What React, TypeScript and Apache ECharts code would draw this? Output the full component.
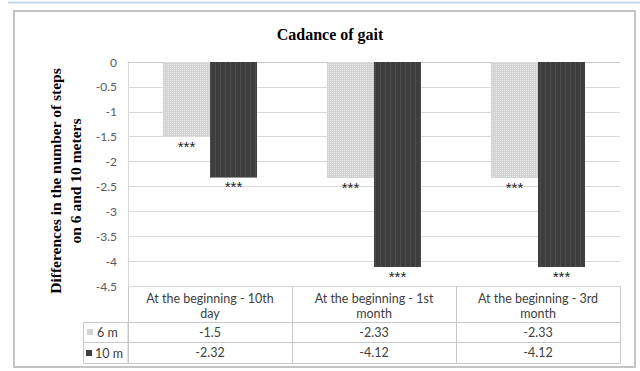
import React, { useEffect, useRef } from "react";
import * as echarts from "echarts";

const categories = [
  "At the beginning - 10th\nday",
  "At the beginning - 1st\nmonth",
  "At the beginning - 3rd\nmonth",
];
const seriesNames = ["6 m", "10 m"];
const sixM = [-1.5, -2.33, -2.33];
const tenM = [-2.32, -4.12, -4.12];
const sigLabels = ["***", "***"];
const yMin = -4.5;
const yMax = 0;
const yStep = 0.5;

const TABLE_LINE = "#c8c8c8";
const TEXT = "#404040";
const FONT = "Lato";

const GRID_LEFT = 128;
const GRID_RIGHT = 20;
const GRID_TOP = 62;
const GRID_BOTTOM = 85;
const W = 640;
const H = 371;

export default function App() {
  const ref = useRef<HTMLDivElement>(null);
  useEffect(() => {
    if (!ref.current) return;
    const chart = echarts.init(ref.current, undefined, { renderer: "svg" });
    const rowAxis = (offset: number, values: number[] | null) => ({
      type: "category",
      data: categories,
      position: "bottom",
      offset,
      axisLine: { show: true, lineStyle: { color: TABLE_LINE } },
      axisTick: { show: false },
      splitLine: { show: false },
      axisLabel: {
        show: values !== null,
        interval: 0,
        margin: 4,
        fontSize: 12.5,
        fontFamily: FONT,
        color: TEXT,
        formatter: (_v: string, i: number) => (values ? String(values[i]) : ""),
      },
    });
    const plotW = W - GRID_LEFT - GRID_RIGHT;
    const tableTop = H - GRID_BOTTOM;
    const tableBottom = tableTop + 77;
    const band = plotW / categories.length;
    const vLines = [];
    for (let i = 0; i <= categories.length; i++) {
      const x = Math.round(GRID_LEFT + i * band) + 0.5;
      vLines.push({
        type: "line",
        shape: { x1: x, y1: tableTop, x2: x, y2: tableBottom },
        style: { stroke: TABLE_LINE, lineWidth: 1 },
      });
    }
    const sigLabel = (text: string) => ({
      show: true,
      position: "bottom",
      distance: 2,
      formatter: text,
      color: "#222",
      fontSize: 15,
      fontWeight: "normal",
      fontFamily: "Liberation Sans",
    });
    const option: any = {
      animation: false,
      backgroundColor: "#ffffff",
      title: {
        text: "Cadance of gait",
        left: 325,
        top: 21,
        textAlign: "center",
        textStyle: { fontFamily: "Liberation Serif", fontWeight: "bold", fontSize: 16, color: "#000" },
      },
      grid: { left: GRID_LEFT, right: GRID_RIGHT, top: GRID_TOP, bottom: GRID_BOTTOM, containLabel: false },
      xAxis: [
        {
          type: "category",
          data: categories,
          position: "bottom",
          axisLine: { show: true, lineStyle: { color: TABLE_LINE } },
          axisTick: { show: false },
          axisLabel: {
            interval: 0,
            margin: 5,
            fontSize: 12.5,
            lineHeight: 15,
            fontFamily: FONT,
            color: TEXT,
          },
        },
        rowAxis(36, sixM),
        rowAxis(56, tenM),
        rowAxis(77, null),
      ],
      yAxis: {
        type: "value",
        min: yMin,
        max: yMax,
        interval: yStep,
        axisLine: { show: true, lineStyle: { color: "#d9d9d9" } },
        axisTick: { show: false },
        axisLabel: { margin: 11, fontSize: 12, fontFamily: FONT, color: "#595959" },
        splitLine: { lineStyle: { color: "#d9d9d9" } },
      },
      series: [
        {
          name: seriesNames[0],
          type: "bar",
          data: sixM,
          barWidth: 47,
          barGap: "0%",
          itemStyle: {
            color: "#d2d2d2",
            decal: {
              symbol: "rect",
              symbolSize: 1,
              color: "rgba(255,255,255,0.45)",
              dashArrayX: [1, 1],
              dashArrayY: [1, 1],
              rotation: 0,
            },
          },
          label: sigLabel(sigLabels[0]),
        },
        {
          name: seriesNames[1],
          type: "bar",
          data: tenM,
          barWidth: 47,
          barGap: "0%",
          itemStyle: {
            color: "#3d3d3d",
            decal: {
              symbol: "rect",
              symbolSize: 1,
              color: "rgba(85,85,85,0.7)",
              dashArrayX: [1, 4],
              dashArrayY: [4, 0],
              rotation: 0,
            },
          },
          label: sigLabel(sigLabels[1]),
        },
      ],
      graphic: [
        {
          type: "line",
          shape: { x1: 8, y1: 2.5, x2: 640, y2: 2.5 },
          style: { stroke: "#c6d6ec", lineWidth: 2 },
        },
        {
          type: "rect",
          shape: { x: 14, y: 11, width: 621, height: 356 },
          style: { fill: "none", stroke: "#c4c4c4", lineWidth: 2 },
        },
        {
          type: "text",
          x: 65,
          y: 181,
          rotation: Math.PI / 2,
          style: {
            text: "Differences in the number of steps\non 6 and 10 meters",
            fontFamily: "Liberation Serif",
            fontWeight: "bold",
            fontSize: 15.5,
            lineHeight: 20,
            fill: "#000",
            align: "center",
            verticalAlign: "middle",
          },
        },
        ...vLines,
        {
          type: "rect",
          shape: { x: 83.5, y: 322.5, width: 44.5, height: 41 },
          style: { fill: "none", stroke: TABLE_LINE, lineWidth: 1 },
        },
        {
          type: "line",
          shape: { x1: 83.5, y1: 342.5, x2: 128, y2: 342.5 },
          style: { stroke: TABLE_LINE, lineWidth: 1 },
        },
        {
          type: "rect",
          shape: { x: 87, y: 329, width: 6, height: 6 },
          style: { fill: "#d2d2d2" },
        },
        {
          type: "text",
          x: 97,
          y: 332,
          style: { text: seriesNames[0], fontFamily: FONT, fontSize: 12.5, fill: TEXT, verticalAlign: "middle" },
        },
        {
          type: "rect",
          shape: { x: 86, y: 350, width: 6, height: 6 },
          style: { fill: "#3d3d3d" },
        },
        {
          type: "text",
          x: 95,
          y: 353,
          style: { text: seriesNames[1], fontFamily: FONT, fontSize: 12.5, fill: TEXT, verticalAlign: "middle" },
        },
      ],
    };
    chart.setOption(option);
    return () => chart.dispose();
  }, []);
  return (
    <div
      ref={ref}
      style={{ position: "fixed", left: 0, top: 0, width: W, height: H, background: "#fff" }}
    />
  );
}
